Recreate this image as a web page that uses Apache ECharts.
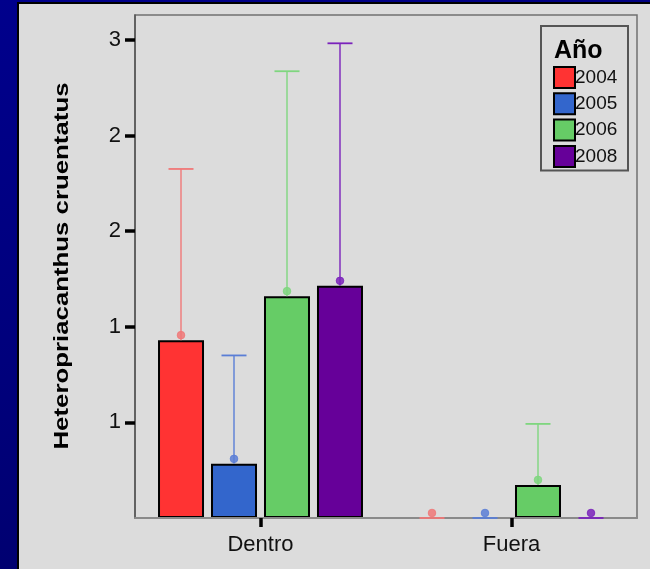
<!DOCTYPE html>
<html>
<head>
<meta charset="utf-8">
<script src="https://cdn.jsdelivr.net/npm/echarts@6/dist/echarts.min.js"></script>
<style>
  html, body { margin: 0; padding: 0; width: 650px; height: 569px; overflow: hidden;
    background: linear-gradient(160deg, #00008c 0%, #00007c 45%, #000064 100%); }
  #chart { width: 650px; height: 569px; }
</style>
</head>
<body>
<div id="chart"></div>
<script>
// Mean abundance of Heteropriacanthus cruentatus by zone and year, with upper error limits
const categories = ['Dentro', 'Fuera'];
const years = ['2004', '2005', '2006', '2008'];

const mean2004 = [0.93, 0];
const mean2005 = [0.283, 0];
const mean2006 = [1.16, 0.173];
const mean2008 = [1.214, 0];

const upper2004 = [1.825, 0];
const upper2005 = [0.85, 0];
const upper2006 = [2.336, 0.492];
const upper2008 = [2.482, 0];

// Axis ticks and the rounded labels printed beside them
const yTickValues = [0.5, 1, 1.5, 2, 2.5];
const yTickLabels = ['1', '1', '2', '2', '3'];

const means = [mean2004, mean2005, mean2006, mean2008];
const uppers = [upper2004, upper2005, upper2006, upper2008];

const barColors = ['#ff3333', '#3366cc', '#66cc66', '#660099'];
const errColors = ['#f07878', '#5a7ed6', '#7fd67f', '#7a22bb'];

const FONT = '"Liberation Sans", Arial, sans-serif';
const BAR_W = 46;
const BAR_GAP = 7;
const CAP_HALF = 12.5;

function errorRenderer(i) {
  const col = errColors[i];
  return function (params, api) {
    const c = api.value(0);
    const base = api.coord([c, api.value(1)]);
    const top = api.coord([c, api.value(2)]);
    const x = base[0] + (i - 1.5) * (BAR_W + BAR_GAP);
    return {
      type: 'group',
      children: [
        { type: 'line', shape: { x1: x, y1: base[1], x2: x, y2: top[1] },
          style: { stroke: col, lineWidth: 1.4 } },
        { type: 'line', shape: { x1: x - CAP_HALF, y1: top[1], x2: x + CAP_HALF, y2: top[1] },
          style: { stroke: col, lineWidth: 1.8 } },
        { type: 'circle', shape: { cx: x, cy: base[1] - 5, r: 3.8 },
          style: { fill: col, stroke: col, lineWidth: 1, opacity: 0.85 } }
      ]
    };
  };
}

const barSeries = years.map((y, i) => ({
  name: y,
  type: 'bar',
  barWidth: BAR_W,
  barGap: (BAR_GAP / BAR_W * 100).toFixed(1) + '%',
  itemStyle: { color: barColors[i], borderColor: '#000', borderWidth: 2 },
  data: means[i].map(v => (v === 0 ? { value: v, itemStyle: { borderWidth: 0 } } : v)),
  z: 2
}));

const errSeries = years.map((y, i) => ({
  name: y,
  type: 'custom',
  clip: false,
  z: 8,
  renderItem: errorRenderer(i),
  encode: { x: 0, y: [1, 2] },
  data: categories.map((c, k) => [k, means[i][k], uppers[i][k]])
}));

const chart = echarts.init(document.getElementById('chart'), null, { renderer: 'canvas' });

chart.setOption({
  backgroundColor: 'transparent',
  animation: false,
  textStyle: { fontFamily: FONT },
  grid: {
    left: 135, top: 15, right: 13, bottom: 51,
    show: true, backgroundColor: '#dcdcdc', borderColor: '#707070', borderWidth: 1.5
  },
  xAxis: {
    type: 'category',
    data: categories,
    axisLine: { lineStyle: { color: '#8a8a8a', width: 2 } },
    axisTick: { show: true, alignWithLabel: true, length: 9, lineStyle: { color: '#000', width: 3.5 } },
    axisLabel: { fontSize: 22, color: '#111', margin: 16, fontFamily: FONT },
    splitLine: { show: false },
    z: 5
  },
  yAxis: {
    type: 'value',
    min: 0,
    max: 2.63,
    interval: 0.5,
    axisLine: { show: true, lineStyle: { color: '#555', width: 1.5 } },
    axisTick: { show: true, customValues: yTickValues, length: 10, lineStyle: { color: '#000', width: 3.5 } },
    axisLabel: {
      customValues: yTickValues,
      fontSize: 22, color: '#111', margin: 14, fontFamily: FONT,
      padding: [6, 0, 0, 0],
      formatter: v => yTickLabels[yTickValues.indexOf(v)] || ''
    },
    splitLine: { show: false }
  },
  legend: {
    data: years,
    orient: 'vertical',
    left: 553, top: 66,
    padding: 0,
    itemWidth: 21, itemHeight: 21, itemGap: 3.3,
    icon: 'rect',
    textStyle: { fontSize: 19, color: '#111', fontFamily: FONT, padding: [0, 0, 0, -5] }
  },
  graphic: [
    { type: 'rect', z: -10, silent: true,
      shape: { x: 18, y: 3, width: 650, height: 580 },
      style: { fill: '#dcdcdc', stroke: '#000', lineWidth: 2 } },
    { type: 'rect', z: 1, silent: true,
      shape: { x: 541, y: 26, width: 87, height: 144.5 },
      style: { fill: 'transparent', stroke: '#555', lineWidth: 2 } },
    { type: 'text', z: 1, silent: true,
      style: { text: 'Año', x: 554, y: 51, fontSize: 25, fontWeight: 'bold', fontFamily: FONT,
               fill: '#000', align: 'left', verticalAlign: 'middle' } },
    { type: 'text', z: 1, silent: true,
      x: 62, y: 266, rotation: Math.PI / 2, scaleX: 1.29,
      style: { text: 'Heteropriacanthus cruentatus', fontSize: 20, fontWeight: 'bold', fontFamily: FONT,
               fill: '#000', align: 'center', verticalAlign: 'middle' } }
  ],
  series: barSeries.concat(errSeries)
});
</script>
</body>
</html>
